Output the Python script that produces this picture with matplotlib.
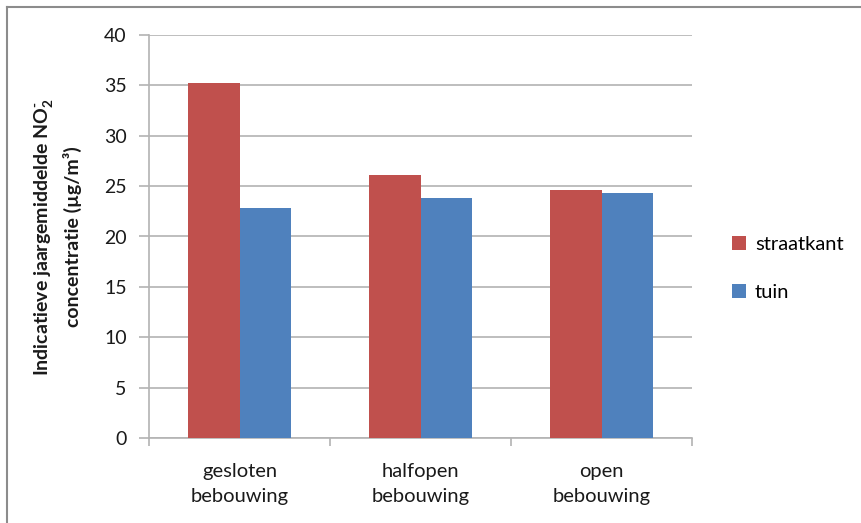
import matplotlib
matplotlib.use("Agg")
import matplotlib.pyplot as plt
import numpy as np
from matplotlib.lines import Line2D

plt.rcParams['font.family'] = ['Lato', 'DejaVu Sans']
plt.rcParams['mathtext.fontset'] = 'custom'
plt.rcParams['mathtext.rm'] = 'Lato'
plt.rcParams['mathtext.bf'] = 'Lato:bold'

categorieen = ["gesloten\nbebouwing", "halfopen\nbebouwing", "open\nbebouwing"]
straatkant = [35.2, 26.1, 24.65]
tuin = [22.8, 23.85, 24.3]
y_ticks = [0, 5, 10, 15, 20, 25, 30, 35, 40]

rood = "#C0504D"
blauw = "#4F81BD"
grijs = "#B3B3B3"
tekst = "#1A1A1A"

fig = plt.figure(figsize=(8.61, 5.23), dpi=100)
ax = fig.add_axes([149 / 861, 1 - 438 / 523, (692 - 149) / 861, (438 - 35) / 523])

x = np.arange(len(categorieen))
breedte = 1 / 3.5
ax.bar(x - breedte / 2, straatkant, breedte, color=rood, label="straatkant", zorder=3)
ax.bar(x + breedte / 2, tuin, breedte, color=blauw, label="tuin", zorder=3)

ax.set_xlim(-0.5, len(categorieen) - 0.5)
ax.set_ylim(0, 40)
ax.set_yticks(y_ticks)
ax.set_yticklabels([str(t) for t in y_ticks], fontsize=14, color=tekst)
ax.yaxis.grid(True, color=grijs, linewidth=1.2, zorder=0)

# categorie-labels in het midden, tickstreepjes op de grenzen
ax.set_xticks(x)
ax.set_xticklabels(categorieen, fontsize=14.5, color=tekst, linespacing=1.55)
ax.tick_params(axis="x", length=0, pad=18)
ax.set_xticks(np.arange(len(categorieen) + 1) - 0.5, minor=True)
ax.tick_params(axis="x", which="minor", length=6, color=grijs, width=1.2)
ax.tick_params(axis="y", length=7, color=grijs, width=1.2, pad=9)

for kant in ["top", "right"]:
    ax.spines[kant].set_visible(False)
for kant in ["left", "bottom"]:
    ax.spines[kant].set_color(grijs)
    ax.spines[kant].set_linewidth(1.2)

ax.set_ylabel("Indicatieve jaargemiddelde NO$_\\mathbf{2}^{\\mathbf{\u2010}}$\nconcentratie (µg/m³)",
              fontsize=14, fontweight="bold", color=tekst, linespacing=1.45, labelpad=16)

ax.legend(loc="center left", bbox_to_anchor=(1.073, 0.42),
          frameon=False, fontsize=14.5, handlelength=0.7, handleheight=0.7,
          handletextpad=0.45, labelspacing=1.55, borderaxespad=0, borderpad=0)

# rand van de grafiek (alleen boven en links zichtbaar)
fig.add_artist(Line2D([7 / 861, 1], [1 - 7 / 523, 1 - 7 / 523], color="#8C8C8C", linewidth=1.5))
fig.add_artist(Line2D([7 / 861, 7 / 861], [0, 1 - 7 / 523], color="#8C8C8C", linewidth=1.5))

fig.savefig("out.png", dpi=100)
